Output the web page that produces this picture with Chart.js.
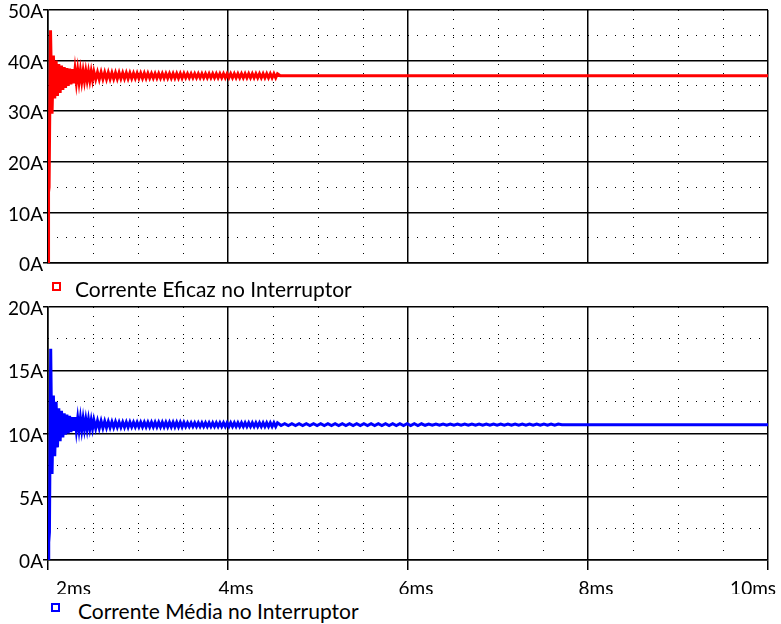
<!DOCTYPE html>
<html>
<head>
<meta charset="utf-8">
<script src="https://cdn.jsdelivr.net/npm/chart.js@4"></script>
<style>
  body { margin: 0; background: #fff; }
  #wrap { position: relative; width: 781px; height: 624px; overflow: hidden; font-family: Lato, sans-serif; color: #000; }
  .plot { position: absolute; left: 0; }
  .legend { position: absolute; font-size: 21px; line-height: 24px; white-space: nowrap; }
  .box { position: absolute; width: 9px; height: 9px; box-sizing: border-box; border: 2px solid; }
</style>
</head>
<body>
<div id="wrap">
  <canvas id="topPlot" class="plot" width="781" height="280" style="top:0"></canvas>
  <canvas id="bottomPlot" class="plot" width="781" height="297" style="top:297px"></canvas>
  <div class="box" style="left:52px;top:282px;border-color:#ff0000"></div>
  <div class="legend" style="left:75px;top:277px">Corrente Eficaz no Interruptor</div>
  <div class="box" style="left:51px;top:603px;border-color:#0000ff"></div>
  <div class="legend" style="left:78px;top:599px">Corrente Média no Interruptor</div>
</div>
<script>
// time axis, ms
const timeMin = 2, timeMax = 10, timeStep = 2, timeMinorStep = 0.5;

// RMS switch current (top trace)
const rmsTimes = [
  2.000, 2.006, 2.012, 2.028, 2.045, 2.060, 2.075, 2.090, 2.105, 2.120,
  2.135, 2.150, 2.165, 2.180, 2.195, 2.210, 2.225, 2.240, 2.255, 2.270,
  2.285, 2.300, 2.315, 2.330, 2.345, 2.360, 2.375, 2.390, 2.405, 2.420,
  2.435, 2.450, 2.465, 2.480, 2.495, 2.510,
  2.53, 2.55, 2.57, 2.59, 2.61, 2.63, 2.65, 2.67, 2.69, 2.71,
  2.73, 2.75, 2.77, 2.79, 2.81, 2.83, 2.85, 2.87, 2.89, 2.91,
  2.93, 2.95, 2.97, 2.99, 3.01, 3.03, 3.05, 3.07, 3.09, 3.11,
  3.13, 3.15, 3.17, 3.19, 3.21, 3.23, 3.25, 3.27, 3.29, 3.31,
  3.33, 3.35, 3.37, 3.39, 3.41, 3.43, 3.45, 3.47, 3.49, 3.51,
  3.53, 3.55, 3.57, 3.59, 3.61, 3.63, 3.65, 3.67, 3.69, 3.71,
  3.73, 3.75, 3.77, 3.79, 3.81, 3.83, 3.85, 3.87, 3.89, 3.91,
  3.93, 3.95, 3.97, 3.99, 4.01, 4.03, 4.05, 4.07, 4.09, 4.11,
  4.13, 4.15, 4.17, 4.19, 4.21, 4.23, 4.25, 4.27, 4.29, 4.31,
  4.33, 4.35, 4.37, 4.39, 4.41, 4.43, 4.45, 4.47, 4.49, 4.51,
  4.53, 4.55, 4.58, 10.00
];
const rmsAmps = [
  0, 14, 15, 46, 29.5, 41, 32.5, 40, 33, 39.3,
  33.6, 39, 34.2, 38.7, 34.6, 38.5, 35, 38.4, 35.3, 38.3,
  35.5, 38.2, 35.7, 38.1, 35.8, 38.0, 35.9, 37.9, 36.0, 37.9,
  36.1, 37.8, 36.1, 37.8, 36.2, 37.8,
  36.3, 37.7, 36.3, 37.7, 36.35, 37.65, 36.35, 37.65, 36.4, 37.6,
  36.4, 37.6, 36.4, 37.6, 36.45, 37.55, 36.45, 37.55, 36.45, 37.55,
  36.5, 37.5, 36.5, 37.5, 36.5, 37.5, 36.5, 37.5, 36.5, 37.5,
  36.55, 37.45, 36.55, 37.45, 36.55, 37.45, 36.55, 37.45, 36.55, 37.45,
  36.55, 37.45, 36.55, 37.45, 36.55, 37.45, 36.55, 37.45, 36.55, 37.45,
  36.6, 37.4, 36.6, 37.4, 36.6, 37.4, 36.6, 37.4, 36.6, 37.4,
  36.6, 37.4, 36.6, 37.4, 36.6, 37.4, 36.6, 37.4, 36.6, 37.4,
  36.6, 37.4, 36.6, 37.4, 36.6, 37.4, 36.6, 37.4, 36.6, 37.4,
  36.6, 37.4, 36.6, 37.4, 36.6, 37.4, 36.6, 37.4, 36.6, 37.4,
  36.6, 37.4, 36.6, 37.4, 36.6, 37.4, 36.6, 37.4, 36.6, 37.4,
  36.6, 37.4, 37.0, 37.0
];

// average switch current (bottom trace)
const avgTimes = [
  2.000, 2.008, 2.016, 2.030, 2.045, 2.060, 2.075, 2.090, 2.105, 2.120,
  2.135, 2.150, 2.165, 2.180, 2.195, 2.210, 2.225, 2.240, 2.255, 2.270,
  2.285, 2.300, 2.315, 2.330, 2.345, 2.360, 2.375, 2.390, 2.405, 2.420,
  2.435, 2.450, 2.465, 2.480, 2.495, 2.510,
  2.53, 2.55, 2.57, 2.59, 2.61, 2.63, 2.65, 2.67, 2.69, 2.71,
  2.73, 2.75, 2.77, 2.79, 2.81, 2.83, 2.85, 2.87, 2.89, 2.91,
  2.93, 2.95, 2.97, 2.99, 3.01, 3.03, 3.05, 3.07, 3.09, 3.11,
  3.13, 3.15, 3.17, 3.19, 3.21, 3.23, 3.25, 3.27, 3.29, 3.31,
  3.33, 3.35, 3.37, 3.39, 3.41, 3.43, 3.45, 3.47, 3.49, 3.51,
  3.53, 3.55, 3.57, 3.59, 3.61, 3.63, 3.65, 3.67, 3.69, 3.71,
  3.73, 3.75, 3.77, 3.79, 3.81, 3.83, 3.85, 3.87, 3.89, 3.91,
  3.93, 3.95, 3.97, 3.99, 4.01, 4.03, 4.05, 4.07, 4.09, 4.11,
  4.13, 4.15, 4.17, 4.19, 4.21, 4.23, 4.25, 4.27, 4.29, 4.31,
  4.33, 4.35, 4.37, 4.39, 4.41, 4.43, 4.45, 4.47, 4.49, 4.51,
  4.53, 4.55,
  4.59, 4.63, 4.67, 4.71, 4.75, 4.79, 4.83, 4.87, 4.91, 4.95,
  4.99, 5.03, 5.07, 5.11, 5.15, 5.19, 5.23, 5.27, 5.31, 5.35,
  5.39, 5.43, 5.47, 5.51, 5.55, 5.59, 5.63, 5.67, 5.71, 5.75,
  5.79, 5.83, 5.87, 5.91, 5.95, 5.99, 6.03, 6.07, 6.11, 6.15,
  6.19, 6.23, 6.27, 6.31, 6.35, 6.39, 6.43, 6.47, 6.51, 6.55,
  6.59, 6.63, 6.67, 6.71, 6.75, 6.79, 6.83, 6.87, 6.91, 6.95,
  6.99, 7.03, 7.07, 7.11, 7.15, 7.19, 7.23, 7.27, 7.31, 7.35,
  7.39, 7.43, 7.47, 7.51, 7.55, 7.59, 7.63, 7.67,
  7.71, 10.00
];
const avgAmps = [
  0, 1.4, 2.2, 16.7, 6.8, 13, 8.2, 12.5, 8.9, 12.0,
  9.4, 11.8, 9.7, 11.6, 9.9, 11.5, 10.0, 11.4, 10.1, 11.3,
  10.2, 11.3, 10.25, 11.2, 10.3, 11.2, 10.3, 11.15, 10.35, 11.1,
  10.35, 11.1, 10.4, 11.05, 10.4, 11.05,
  10.4, 11.0, 10.42, 10.98, 10.44, 10.96, 10.46, 10.94, 10.48, 10.92,
  10.48, 10.92, 10.5, 10.9, 10.5, 10.9, 10.5, 10.9, 10.5, 10.9,
  10.52, 10.88, 10.52, 10.88, 10.52, 10.88, 10.52, 10.88, 10.52, 10.88,
  10.52, 10.88, 10.52, 10.88, 10.52, 10.88, 10.52, 10.88, 10.52, 10.88,
  10.52, 10.88, 10.52, 10.88, 10.52, 10.88, 10.52, 10.88, 10.52, 10.88,
  10.55, 10.85, 10.55, 10.85, 10.55, 10.85, 10.55, 10.85, 10.55, 10.85,
  10.55, 10.85, 10.55, 10.85, 10.55, 10.85, 10.55, 10.85, 10.55, 10.85,
  10.55, 10.85, 10.55, 10.85, 10.55, 10.85, 10.55, 10.85, 10.55, 10.85,
  10.55, 10.85, 10.55, 10.85, 10.55, 10.85, 10.55, 10.85, 10.55, 10.85,
  10.55, 10.85, 10.55, 10.85, 10.55, 10.85, 10.55, 10.85, 10.55, 10.85,
  10.55, 10.85,
  10.63, 10.77, 10.63, 10.77, 10.63, 10.77, 10.63, 10.77, 10.63, 10.77,
  10.63, 10.77, 10.63, 10.77, 10.63, 10.77, 10.63, 10.77, 10.63, 10.77,
  10.63, 10.77, 10.63, 10.77, 10.63, 10.77, 10.63, 10.77, 10.63, 10.77,
  10.63, 10.77, 10.63, 10.77, 10.63, 10.77, 10.63, 10.77, 10.63, 10.77,
  10.65, 10.75, 10.65, 10.75, 10.65, 10.75, 10.65, 10.75, 10.65, 10.75,
  10.65, 10.75, 10.65, 10.75, 10.65, 10.75, 10.65, 10.75, 10.65, 10.75,
  10.65, 10.75, 10.65, 10.75, 10.65, 10.75, 10.65, 10.75, 10.65, 10.75,
  10.65, 10.75, 10.65, 10.75, 10.65, 10.75, 10.65, 10.75,
  10.7, 10.7
];

const tickFont = { family: 'Lato', size: 19 };

function makePlot(canvasId, times, amps, color, yMax, yStep, showTime) {
  const points = times.map((t, i) => ({ x: t, y: amps[i] }));
  const yMinorStep = yStep / 2;

  return new Chart(document.getElementById(canvasId), {
    type: 'line',
    data: {
      datasets: [{
        data: points,
        borderColor: color,
        borderWidth: 3,
        pointRadius: 0,
        tension: 0,
        fill: false,
      }],
    },
    options: {
      responsive: false,
      animation: false,
      layout: { padding: { top: 10, right: 13, bottom: showTime ? 0 : 17, left: 0 } },
      plugins: { legend: { display: false }, tooltip: { enabled: false } },
      scales: {
        x: {
          type: 'linear',
          min: timeMin,
          max: timeMax,
          ticks: {
            display: showTime,
            stepSize: timeStep,
            maxTicksLimit: 100,
            align: 'inner',
            labelOffset: 8,
            padding: 7,
            color: '#000',
            font: tickFont,
            callback: (v) => v + 'ms',
          },
          grid: { color: '#000', lineWidth: 1.5, drawTicks: showTime, tickLength: 10, tickColor: '#000' },
          border: { color: '#000', width: 1.5 },
          afterFit: (s) => {
            s.height = showTime ? 34 : 0;
            s.paddingLeft = 0;
            s.paddingRight = 0;
          },
        },
        // dotted minor grid (every 0.5 ms)
        xMinor: {
          type: 'linear',
          axis: 'x',
          position: 'top',
          min: timeMin,
          max: timeMax,
          ticks: { display: false, stepSize: timeMinorStep, maxTicksLimit: 100 },
          grid: {
            drawTicks: false,
            lineWidth: 1,
            color: (ctx) => (ctx.tick && ctx.tick.value % timeStep === 0 ? 'rgba(0,0,0,0)' : '#000'),
          },
          border: { display: false, dash: [1, 8] },
          afterFit: (s) => { s.height = 0; },
        },
        y: {
          type: 'linear',
          min: 0,
          max: yMax,
          ticks: {
            stepSize: yStep,
            maxTicksLimit: 100,
            padding: 0,
            labelOffset: 2,
            color: '#000',
            font: tickFont,
            callback: (v) => v + 'A',
          },
          grid: { color: '#000', lineWidth: 1.5, drawTicks: true, tickLength: 5, tickColor: '#000' },
          border: { color: '#000', width: 1.5 },
          afterFit: (s) => {
            s.width = 48;
            s.paddingTop = 0;
            s.paddingBottom = 0;
          },
        },
        // dotted minor grid (half of the major step)
        yMinor: {
          type: 'linear',
          axis: 'y',
          position: 'right',
          min: 0,
          max: yMax,
          ticks: { display: false, stepSize: yMinorStep, maxTicksLimit: 100 },
          grid: {
            drawTicks: false,
            lineWidth: 1,
            color: (ctx) => (ctx.tick && ctx.tick.value % yStep === 0 ? 'rgba(0,0,0,0)' : '#000'),
          },
          border: { display: false, dash: [1, 8] },
          afterFit: (s) => { s.width = 0; },
        },
      },
    },
  });
}

makePlot('topPlot', rmsTimes, rmsAmps, '#ff0000', 50, 10, false);
makePlot('bottomPlot', avgTimes, avgAmps, '#0000ff', 20, 5, true);
</script>
</body>
</html>
